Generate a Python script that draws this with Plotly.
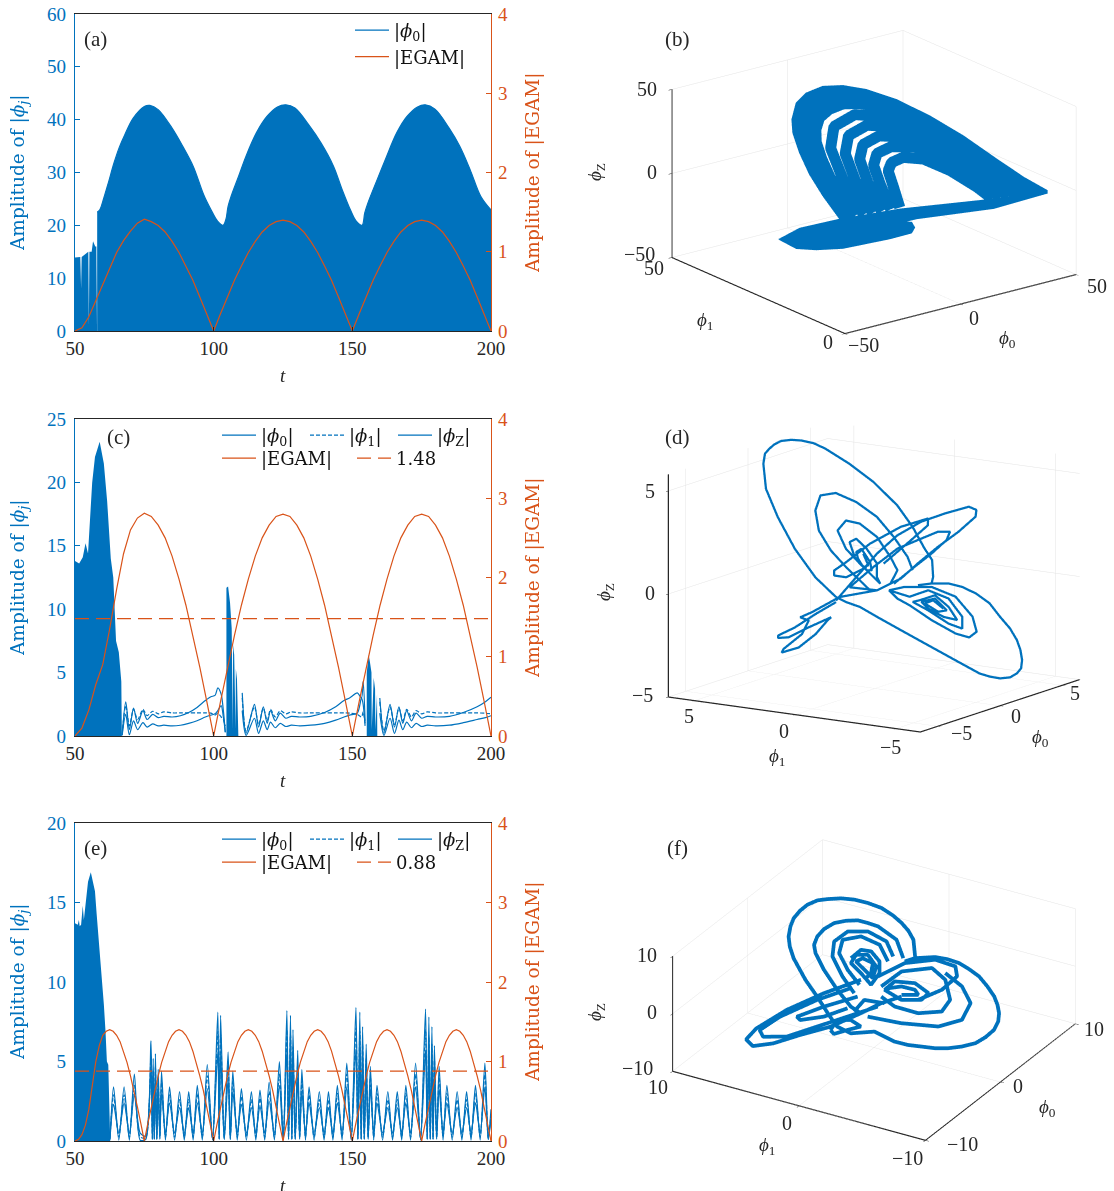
import plotly.graph_objects as go

W, H = 1114, 1191
BLUE = "#0072BD"
ORANGE = "#D95319"
INK = "#262626"
FONT = "Liberation Serif"
WIDE = "DejaVu Serif"

# ---------- panel (a) ----------
a_t = [50,51.9,52.2,52.4,54.8,55,55.2,56,56.5,57.3,57.7,57.85,58,59,60,62,64,66,68,71,75,77,80,85,88.8,92.6,96.4,99,101.4,103.4,104.4,105.2,106.3,109,111.6,115.4,119.2,123,126,129.3,134.3,138.7,143.2,146.3,149.5,151.4,153.5,154.5,155.6,159,162.1,166,169.7,173.5,176.3,179.8,184.9,188.7,192.5,196.3,200]
a_phi0 = [13.9,14,8,14,15,1,15,15,17,16,16,1,22.5,23,24.5,28,31.7,34.8,37.2,40.3,42.5,42.7,41.9,38.4,35,31.2,25.8,23,20.8,20,21.1,23.6,25.5,29.3,33,37.5,40.6,42.4,42.8,42.2,39,35.6,31.2,26.8,22.7,20.8,20,22.4,24.2,28.7,32.7,37.5,40.6,42.4,42.8,42,38.4,35,30.5,25.5,22.9]
egam_t = [50,52.5,55,57.5,60,62.5,65,67.5,70,72.5,75,77.5,80,82.5,85,87.5,90,92.5,95,97.5,100,102.5,105,107.5,110,112.5,115,117.5,120,122.5,125,127.5,130,132.5,135,137.5,140,142.5,145,147.5,150,152.5,155,157.5,160,162.5,165,167.5,170,172.5,175,177.5,180,182.5,185,187.5,190,192.5,195,197.5,200]
a_egam = [0,.04,.18,.38,.6,.8,.99,1.14,1.26,1.36,1.41,1.38,1.33,1.25,1.13,.99,.82,.64,.43,.22,0,.22,.43,.64,.82,.99,1.13,1.25,1.33,1.38,1.4,1.38,1.33,1.25,1.13,.99,.82,.64,.43,.22,0,.22,.43,.64,.82,.99,1.13,1.25,1.33,1.38,1.4,1.38,1.33,1.25,1.13,.99,.82,.64,.43,.22,0]

# ---------- panel (c) ----------
c_burst1_t = [50,51.5,52.8,53.8,54.7,55.3,56.2,57.2,58.9,60.4,61.6,62.9,63.8,64.8,65.8,66.7,66.9]
c_burst1 = [13.8,13.6,14.1,15.2,14.4,17,20,22,23.2,21.5,18.5,14,12.5,7.5,6.6,4.3,0]
c_burst2_t = [104.6,105.2,105.9,106.5,106.9,107,107.4,107.9,108,108.4,108.9]
c_burst2 = [11.7,11.8,10.5,8.5,.5,7.2,6.4,.5,5.3,4.5,0]
c_burst3_t = [155.2,155.9,156.3,156.9,157,157.7,158.2,158.3,158.9,159]
c_burst3 = [5,6.4,5.9,5,.5,4.6,3.7,.5,3.3,0]
c_t = [67,68.3,69.6,71.1,72.6,74.5,76,78,80,82,85,88,91,94,97,99,100.5,101.5,102.7,103.5,104.2,107,110.3,111.7,114.7,116.2,117.9,119.3,120.5,122.2,124,126,128,131,135,140,144,147,149,151.8,153.3,153.9,154.6,157,159.9,161.4,163.6,165.2,166.8,168.2,169.6,171.3,173,175,177,180,185,190,195,198,200]
c_phi0 = [.1,2.7,.5,2.2,1,2,1.3,1.7,1.45,1.55,1.5,1.6,1.85,2.25,2.8,3.1,3.2,3.8,3.3,2,.3,None,3.4,.2,2.5,.7,2.3,1,2,1.2,1.8,1.4,1.55,1.5,1.55,1.85,2.3,2.8,3,3.4,3,4.3,1.2,None,3,.2,2.5,.7,2.3,1,2,1.2,1.8,1.4,1.55,1.5,1.55,1.85,2.3,2.7,3.05]
c_phi1 = [.1,2.4,.8,2.1,1.3,2.1,1.6,1.95,1.75,1.9,1.82,1.82,1.82,1.82,1.82,1.8,1.65,1.8,1.5,1.3,.8,None,3,.4,2.3,.9,2.2,1.2,2.1,1.5,2,1.75,1.9,1.82,1.82,1.82,1.82,1.82,1.8,1.7,1.5,1.9,1,None,2.7,.4,2.3,.9,2.2,1.2,2.1,1.5,2,1.75,1.9,1.82,1.82,1.82,1.82,1.8,1.75]
c_phiz = [.05,1.7,.1,1.2,.5,1.05,.7,.95,.8,.85,.8,.85,1,1.2,1.5,1.65,1.75,2,2.4,1.5,.3,None,2,.05,1.4,.2,1.2,.5,1.1,.65,1,.75,.85,.8,.85,1,1.25,1.5,1.65,1.8,3,2.5,.8,None,1.8,.05,1.4,.2,1.25,.5,1.1,.65,1,.75,.85,.8,.85,1.05,1.3,1.45,1.6]
c_egam = [0,.1,.33,.65,.9,1.35,1.85,2.3,2.6,2.75,2.81,2.77,2.66,2.5,2.27,1.98,1.65,1.27,.87,.44,0,.44,.87,1.27,1.65,1.98,2.27,2.5,2.66,2.77,2.8,2.77,2.66,2.5,2.27,1.98,1.65,1.27,.87,.44,0,.44,.87,1.27,1.65,1.98,2.27,2.5,2.66,2.77,2.8,2.77,2.66,2.5,2.27,1.98,1.65,1.27,.87,.44,0]
c_level = [1.48, 1.48]
level_t = [50, 200]

# ---------- panel (e) ----------
e_burst_t = [50,51,51.4,51.7,52.2,52.8,53.2,53.6,54.1,54.7,55.7,56.5,57.2,57.8,58.5,59.1,59.7,60.4,61,61.5,62,62.5,62.7]
e_burst = [13.7,13.6,13.9,13.5,13.6,14.8,13.9,14.5,15.6,16.3,16.9,16.3,15.7,14.3,12.8,11.5,10.4,8.6,6.9,5,4.8,2,0]
e_t = [62.6,63.9,65.8,67.7,69.6,71.4,73.5,75.5,
       77.4,77.9,78.2,78.6,79,79.5,80,80.6,81.2,82.6,84.1,85.9,87.7,89.4,91,92.6,94.1,95.9,97.7,99.6,
       101.5,102,102.5,103.8,105.2,106,106.9,108.5,110,111.8,113.6,115.2,116.7,118.4,120,121.9,123.7,125.1,
       126.4,127,127.7,128.2,128.6,129.4,130.3,131,131.8,133.1,134.4,136.2,138.1,139.8,141.4,143,144.6,146.3,148,149.6,
       151.3,152,152.7,153.2,153.7,154.3,155,155.7,156.5,157.7,158.9,160.9,162.8,164.5,166.2,167.8,169.3,171,172.8,174.6,
       176.4,177,177.6,178.1,178.7,179.1,179.6,180.4,181.3,182.7,184.1,186,187.8,189.5,191.2,192.8,194.4,196.1,197.8,199,200]
e_phi0 = [.1,3.4,.05,3.4,.05,4.2,.05,.1,
          6.3,.1,5.2,.1,5.5,.1,4.5,.1,4.4,.05,3.4,.05,3.1,.05,3.1,.05,3.5,.05,4.8,.05,
          8.1,.1,7.9,.1,5.6,.1,4.4,.05,3.3,.05,3.1,.05,3.2,.05,3.7,.05,5,.05,
          8.2,.1,7.9,.1,7,.1,5.7,.1,4.5,.05,3.4,.05,3.1,.05,3.1,.05,3.5,.05,4.9,.05,
          8.4,.1,8.1,.1,7.2,.1,6.1,.1,4.7,.05,3.5,.05,3.1,.05,3.1,.05,3.5,.05,4.9,.05,
          8.3,.1,7.8,.1,7.2,.1,6,.1,4.7,.05,3.5,.05,3.1,.05,3.1,.05,3.5,.05,4.9,.1,2]
e_phi1 = [.2,2.9,.25,2.9,.25,3.5,.25,.2,
          5.4,.2,4.4,.2,4.7,.2,3.8,.2,3.7,.25,2.9,.25,2.6,.25,2.6,.25,3,.25,4.1,.2,
          6.9,.2,6.7,.2,4.8,.2,3.8,.25,2.8,.25,2.6,.25,2.7,.25,3.1,.25,4.2,.2,
          7,.2,6.7,.2,5.9,.2,4.8,.2,3.8,.25,2.9,.25,2.6,.25,2.6,.25,3,.25,4.2,.2,
          7.1,.2,6.9,.2,6.1,.2,5.2,.2,4,.25,3,.25,2.6,.25,2.6,.25,3,.25,4.2,.2,
          7,.2,6.6,.2,6.1,.2,5.1,.2,4,.25,3,.25,2.6,.25,2.6,.25,3,.25,4.2,.2,1.7]
e_phiz = [.1,2.3,.5,2.4,.5,2.9,.5,.3,
          4.4,.1,3.6,.1,3.9,.1,3.1,.3,3,.5,2.4,.5,2.1,.5,2.1,.5,2.4,.5,3.3,.1,
          5.6,.1,5.5,.1,3.9,.1,3.1,.5,2.3,.5,2.1,.5,2.2,.5,2.5,.5,3.5,.1,
          5.7,.1,5.5,.1,4.9,.1,3.9,.2,3.1,.5,2.4,.5,2.1,.5,2.1,.5,2.4,.5,3.4,.1,
          5.8,.1,5.7,.1,5,.1,4.2,.2,3.3,.5,2.4,.5,2.1,.5,2.1,.5,2.4,.5,3.4,.1,
          5.7,.1,5.4,.1,5,.1,4.1,.2,3.3,.5,2.4,.5,2.1,.5,2.1,.5,2.4,.5,3.4,.1,1.4]
e_egam_t = [50,51.25,52.5,53.75,55,56.25,57.5,58.75,60,61.25,62.5,63.75,65,66.25,67.5,68.75,70,71.25,72.5,73.75,75,
            76.25,77.5,78.75,80,81.25,82.5,83.75,85,86.25,87.5,88.75,90,91.25,92.5,93.75,95,96.25,97.5,98.75,100,
            101.25,102.5,103.75,105,106.25,107.5,108.75,110,111.25,112.5,113.75,115,116.25,117.5,118.75,120,121.25,122.5,123.75,125,
            126.25,127.5,128.75,130,131.25,132.5,133.75,135,136.25,137.5,138.75,140,141.25,142.5,143.75,145,146.25,147.5,148.75,150,
            151.25,152.5,153.75,155,156.25,157.5,158.75,160,161.25,162.5,163.75,165,166.25,167.5,168.75,170,171.25,172.5,173.75,175,
            176.25,177.5,178.75,180,181.25,182.5,183.75,185,186.25,187.5,188.75,190,191.25,192.5,193.75,195,196.25,197.5,198.75,200]
_e_lobe = [.22,.43,.64,.82,.99,1.13,1.25,1.33,1.38,1.4,1.38,1.33,1.25,1.13,.99,.82,.64,.43,.22,0]
e_egam = [0,.02,.08,.2,.4,.72,1.0,1.2,1.33,1.38,1.4,1.38,1.33,1.25,1.13,.99,.82,.64,.43,.22,0] + _e_lobe + _e_lobe + _e_lobe + _e_lobe + _e_lobe
e_level = [.88, .88]

# ---------- panel (b) : attractor band ----------
b_outer_phi0 = [5.3,1.7,-1.1,-3.2,-4.6,-4.8,-3.9,-1.8,1.7,6,10.9,17.2,24.3,31.3,38.3,44,48.9]
b_outer_phi1 = [38.5,41,43,44.5,45.5,45.65,45,43.5,41,38,34.5,30,25,20,15,11,7.5]
b_outer_phiz = [-36.4,-23.5,-11.5,.8,12.3,20.2,30.4,37,42.1,43.8,42.9,38.8,31,21.2,9.4,.2,-6.2]
b_inner_phi0 = [8.4,5.6,3.3,1.6,.4,.3,1.1,3.1,6,9.5,13.8,19.3,25.3,31.3,37.3,41.9,46]
b_inner_phi1 = [36.25,38.25,39.9,41.1,41.95,42,41.45,40,38,35.5,32.4,28.5,24.25,20,15.75,12.5,9.55]
b_inner_phiz = [-33.6,-22.4,-11.9,-1.7,8.1,15.8,23,28.6,32.6,33.9,33.4,29.5,23.2,14.9,4.9,-2.4,-8.3]
b_strand_phi0 = [10.3,6,3.4,4.1,8.5,15.7,26,36.7,44.3,None,
                 12.2,8.6,6.5,7.2,11,17.5,26.6,36,42.5,None,
                 14.1,11.2,9.5,10.2,13.6,19.3,27.2,35.4,40.7,None,
                 16,13.8,12.4,13.1,16.1,21.1,27.9,34.8,39,None,
                 17.9,16.5,15.5,16.2,18.6,22.9,28.5,34.1,37.3]
b_strand_phi1 = [34.9,38,39.8,39.3,36.2,31.1,23.8,16.2,10.8,None,
                 33.55,36.15,37.65,37.15,34.4,29.8,23.35,16.65,12.05,None,
                 32.2,34.25,35.5,35,32.6,28.55,22.9,17.1,13.3,None,
                 30.85,32.4,33.4,32.9,30.8,27.25,22.45,17.55,14.55,None,
                 29.5,30.5,31.25,30.75,29,26,22,18,15.75]
b_strand_phiz = [-32.1,-12.1,5.6,18.6,27,27.6,18.4,2.2,-9.6,None,
                 -30.5,-12.3,3.1,14.1,21.4,22.4,13.6,-.6,-11,None,
                 -28.9,-12.7,.7,9.6,15.8,16.8,8.9,-3.4,-12.1,None,
                 -27.2,-12.9,-2,5.2,10.1,11.4,4.1,-6,-13.4,None,
                 -25.6,-13.1,-4.5,.7,4.5,4.7,-.5,-8.7,-14.7]
b_bar_top_phi0 = [5.3,17.9,37.3,48.9]
b_bar_top_phi1 = [38.5,29.5,15.75,7.5]
b_bar_top_phiz = [-36,-26.2,-14.7,-6.2]
b_bar_low_phi0 = [6.7,21.5,37.6,48.9]
b_bar_low_phi1 = [37.5,27,15.5,7.5]
b_bar_low_phiz = [-45.9,-31.5,-20.6,-8.2]
b_lobe_top_phi0 = [-14.9,-10.5,-2.1,7.1,13,13.7]
b_lobe_top_phi1 = [42.6,39.5,33.5,27,22.75,22.25]
b_lobe_top_phiz = [-44.6,-36.7,-28.8,-27.4,-26.2,-29.4]
b_lobe_low_phi0 = [-14.9,-11.2,-7,-1.4,8.5,13]
b_lobe_low_phi1 = [42.6,40,37,33,26,22.75]
b_lobe_low_phiz = [-45,-49.5,-49,-46.5,-37.9,-33.1]

# ---------- panel (d) ----------
d_phi0 = [1.42,1.48,1.63,1.84,1.28,1.07,1.20,1.55,1.95,2.49,2.65,2.70,2.75,2.76,2.76,2.73,2.64,2.53,2.39,2.32,2.16,2.10,2.01,2.10,2.19,2.24,2.26,2.24,2.18,2.12,2.05,1.98,1.89,1.81,1.74,1.66,1.59,1.55,1.52,1.50,1.49,1.48,1.47,1.46,1.43,1.42,None,
          2.12,2.21,2.32,2.41,2.44,2.40,2.29,2.12,1.95,1.83,1.76,1.71,1.68,None,
          1.86,2.03,2.11,2.22,2.25,2.20,2.06,1.93,1.87,1.84,1.80,1.84,1.97,2.05,2.09,2.02,1.90,1.85,1.88,1.95,2.02,1.96,1.91,1.86,1.91,1.99,None,
          1.38,1.72,2.07,2.36,2.63,2.84,3.04,3.06,2.98,2.74,2.48,2.21,1.97,1.72,1.59,1.92,2.23,2.43,2.62,2.69,2.59,2.39,2.16,1.88,None,
          2.01,2.39,2.63,2.70,2.46,2.12,1.81,1.66,1.61,1.66,1.88,None,
          1.37,1.14,.89,.72,.70,.77,.97,1.20,1.14,.95,.72,.58,.63,.87,1.03,1.02,1.13,1.44,1.72,None,
          1.79,1.91,2.07,2.11,2.02,1.90,1.80,1.76,1.75,1.77,1.76,1.79,1.85,2.02,2.05,1.96,1.84,1.81,1.83,1.82,1.87,2.0,1.97,1.89,1.85,1.85,1.87,1.97,1.93,1.86,1.87,1.94,1.92]
d_phi1 = [2.81,3.87,4.98,5.96,6.2,6.2,6.2,6.2,6.2,6.2,5.79,5.32,4.75,4.17,2.98,1.77,.53,-.30,-.98,-1.40,-1.55,-1.51,-.89,-1.51,-2.29,-2.94,-3.61,-4.3,-4.85,-5.39,-5.77,-5.99,-6.13,-6.13,-5.97,-5.68,-5.22,-4.74,-4.25,-2.90,-1.55,-.38,.80,1.65,2.31,2.81,None,
          -.56,-.25,.50,1.40,2.44,3.43,4.12,4.27,3.99,3.32,2.52,1.81,1.28,None,
          .38,.14,.54,1.28,2.15,2.80,3.13,2.63,1.91,1.38,.85,1.04,1.12,1.68,2.22,2.51,2.18,1.55,1.32,1.45,1.92,2.14,2.02,1.73,1.51,1.81,None,
          2.79,1.99,1.18,.35,-.67,-1.72,-2.78,-3.14,-3.15,-2.45,-1.60,-.76,-.07,.96,2.24,1.26,.27,-.62,-1.51,-2.06,-1.95,-1.33,-.62,.22,None,
          .81,-.31,-1.0,-.96,.24,1.56,2.55,3.05,3.02,2.46,1.57,None,
          2.78,3.65,4.51,5.25,5.24,4.77,3.88,2.92,3.06,3.53,4.23,4.99,4.93,4.16,3.92,4.34,3.82,2.65,.96,None,
          .41,-.27,-1.53,-2.69,-3.59,-3.87,-3.56,-2.91,-1.73,-.62,-.03,.41,-.57,-1.39,-2.38,-3.12,-3.19,-2.53,-1.51,-.75,-1.06,-1.74,-2.43,-2.91,-2.26,-1.50,-1.15,-1.76,-2.37,-1.99,-1.31,-1.69,-2.21]
d_phiz = [-1.23,-.43,.77,2.14,3.59,4.85,5.31,5.48,5.61,5.67,5.75,5.77,5.71,5.52,4.95,4.24,3.29,2.38,1.45,.96,.19,-.12,-.27,-.12,-.03,-.12,-.35,-.73,-1.29,-1.78,-2.27,-2.71,-3.16,-3.55,-3.80,-4.02,-4.12,-4.09,-4.0,-3.45,-2.90,-2.42,-1.93,-1.56,-1.41,-1.23,None,
          .39,.98,1.82,2.66,3.23,3.54,3.35,2.63,1.73,.88,.19,-.34,-.75,None,
          -.33,.31,.89,1.74,2.26,2.33,1.83,1.03,.43,.02,-.39,-.10,.52,1.14,1.55,1.36,.70,.15,.18,.55,1.11,.94,.64,.28,.39,.89,None,
          -1.39,-.21,.97,1.91,2.66,3.16,3.59,3.48,3.17,2.39,1.60,.73,-.05,-.71,-.71,.34,1.30,1.80,2.29,2.35,1.95,1.25,.55,-.32,None,
          .55,1.76,2.53,2.84,2.32,1.39,.42,-.02,-.25,-.27,.30,None,
          -1.46,-2.11,-2.82,-3.29,-3.40,-3.32,-2.75,-2.18,-2.34,-3.03,-3.73,-4.05,-3.88,-3.10,-2.44,-2.34,-2.04,-1.21,-.71,None,
          -.65,-.42,-.28,-.60,-1.43,-2.10,-2.40,-2.29,-1.80,-1.23,-.99,-.65,-.84,-.45,-.72,-1.49,-2.03,-1.87,-1.37,-1.06,-.95,-.64,-1.10,-1.66,-1.59,-1.29,-1.01,-.79,-1.27,-1.38,-1.07,-.88,-1.21]

# ---------- panel (f) ----------
f_phi0 = [3.02,3.64,3.86,3.99,4.05,4.05,3.89,3.67,3.37,2.98,2.67,2.23,1.79,1.34,.93,.48,.12,-.25,-.78,-1.14,-1.55,-1.79,-1.71,-1.01,-.88,-.66,-.37,-.08,.28,.69,1.19,1.69,2.20,2.64,2.99,3.28,3.52,3.74,3.92,3.94,3.92,3.75,3.52,2.95,2.55,None,
          2.64,3.19,3.23,3.10,2.94,2.61,2.21,1.70,1.24,.82,.53,.09,-.34,-.65,-.65,None,
          2.44,2.86,2.77,2.24,1.48,.85,.32,-.03,None,
          2.11,2.55,2.39,1.77,1.15,.72,.44,None,
          1.26,1.86,2.07,1.89,1.43,.75,.94,1.07,1.54,1.85,1.60,1.05,1.16,1.27,1.57,1.65,1.21,.87,None,
          .68,-.83,-2.46,-3.99,-4.70,-4.78,-4.14,-3.10,-1.97,-.65,.28,1.08,None,
          .08,-1.27,-2.91,-3.97,-4.14,-3.52,-2.32,-1.13,.06,None,
          -.08,-1.36,-2.47,-2.51,-1.76,-.80,None,
          1.25,2.49,3.42,3.69,3.34,2.41,1.39,None,
          .94,2.08,3.01,2.90,2.23,1.55,.86,.51,.54,None,
          -.60,.03,.87,1.75,2.64,3.07,3.16,None,
          .90,1.50,1.96,1.93,1.48,.95,.90,1.11,1.48,1.70,1.59,1.15,None,
          -2.11,-1.53,-1.18,-1.17,-1.66,-2.17,-2.11,None,
          -.76,-.03,.37]
f_phi1 = [-1.46,-.96,-.43,.18,.88,1.80,2.78,3.72,4.60,5.44,6.05,6.59,6.92,7.14,7.16,7.04,6.73,6.21,4.96,3.82,2.65,1.85,.83,-.63,-2.14,-3.08,-3.96,-4.86,-5.72,-6.53,-7.32,-7.82,-8.19,-8.26,-8.12,-7.82,-7.42,-6.75,-5.98,-5.17,-4.39,-3.55,-2.75,-1.50,-.92,None,
          -.75,.11,1.60,2.32,3.02,3.76,4.46,4.96,5.22,5.23,4.94,4.01,2.70,1.45,.66,None,
          -.07,.71,2.12,3.40,4.03,3.79,2.68,1.55,None,
          .15,1.06,2.44,3.53,3.44,2.51,1.42,None,
          2.57,2.13,1.45,.68,.41,.68,1.59,2.46,2.33,1.58,.77,.72,1.44,2.18,1.82,1.07,.95,1.15,None,
          1.43,3.47,5.45,6.94,7.33,6.75,5.52,4.01,2.27,.66,-.40,-1.53,None,
          1.88,3.75,5.71,6.69,6.32,4.83,3.13,1.43,-.26,None,
          1.25,3.16,4.64,4.35,2.93,1.62,None,
          .44,-.96,-2.81,-4.25,-4.59,-3.94,-2.67,None,
          -.01,-.95,-2.80,-3.92,-4.70,-4.44,-2.98,-1.33,-.25,None,
          .15,-2.14,-4.57,-5.92,-6.07,-5.14,-3.76,None,
          -.30,-.75,-2.08,-3.16,-2.88,-1.60,-.30,-.58,-1.29,-2.23,-2.56,-1.49,None,
          2.19,2.0,1.14,.35,1.12,1.89,2.19,None,
          1.13,.75,-.61]
f_phiz = [3.65,5.63,6.65,7.50,8.29,9.07,9.51,9.76,9.76,9.52,9.25,8.61,7.80,6.85,5.81,4.58,3.40,2.04,-.42,-2.29,-4.36,-5.66,-6.30,-5.83,-6.79,-7.04,-7.08,-7.12,-6.97,-6.61,-6.06,-5.22,-4.24,-3.19,-2.18,-1.20,-.24,.89,1.99,2.76,3.36,3.70,3.81,3.45,2.93,None,
          3.31,5.44,6.83,7.11,7.32,7.14,6.72,5.89,4.92,3.88,2.90,1.0,-1.25,-3.10,-3.78,None,
          3.40,5.12,6.10,5.87,4.51,2.69,.41,-1.45,None,
          2.74,4.64,5.43,4.81,3.17,1.27,-.39,None,
          2.71,3.83,3.74,2.64,1.24,-.26,1.03,2.11,3.17,3.30,2.0,.56,1.46,2.37,2.84,2.36,1.14,.48,None,
          .23,-1.80,-4.24,-6.80,-8.23,-8.96,-8.40,-7.09,-5.74,-3.78,-2.35,-1.32,None,
          -.89,-2.69,-5.12,-6.96,-7.72,-7.44,-5.89,-4.34,-2.79,None,
          -1.82,-3.41,-4.93,-5.29,-4.61,-3.34,None,
          .82,2.73,3.49,2.92,1.74,-.04,-1.52,None,
          -.34,1.69,2.45,1.20,-1.15,-2.65,-3.12,-2.59,-1.55,None,
          -4.11,-4.52,-4.49,-3.41,-1.31,.60,2.0,None,
          -.70,.42,.45,-.59,-1.48,-1.72,-.70,-.44,-.11,-.35,-.91,-1.11,None,
          -6.14,-4.86,-4.70,-5.38,-5.94,-6.58,-6.14,None,
          -3.66,-2.15,-2.31]

# ---------- text ----------
PHI0 = "|<i>ϕ</i><sub>0</sub>|"
PHI1 = "|<i>ϕ</i><sub>1</sub>|"
PHIZ = "|<i>ϕ</i><sub>Z</sub>|"
EGAM = "|EGAM|"
b_tick_text = ["50","0","−50","50","0","−50","0","50"]
d_tick_text = ["5","0","−5","5","0","−5","−5","0","5"]
f_tick_text = ["10","0","−10","10","0","−10","−10","0","10"]

def px(x): return x / W
def py(y): return 1 - y / H

fig = go.Figure()

def line(t, y, xa, ya, color, name=None, legend=None, dash=None, width=1.2, shape="linear", smoothing=None):
    ln = dict(color=color, width=width, shape=shape)
    if dash: ln["dash"] = dash
    if smoothing is not None: ln["smoothing"] = smoothing
    fig.add_trace(go.Scatter(x=t, y=y, xaxis=xa, yaxis=ya, mode="lines", line=ln, name=name or "",
                             showlegend=bool(name), legend=legend, connectgaps=False, hoverinfo="skip"))

def area(t, y, xa, ya, shape="linear"):
    fig.add_trace(go.Scatter(x=t, y=y, xaxis=xa, yaxis=ya, mode="lines", line=dict(width=0, color=BLUE, shape=shape),
                             fill="tozeroy", fillcolor=BLUE, showlegend=False, hoverinfo="skip"))

# (a)
area(a_t[:13], a_phi0[:13], "x", "y")
area(a_t[12:], a_phi0[12:], "x", "y", shape="spline")
line(a_t[12:], a_phi0[12:], "x", "y", BLUE, PHI0, "legend", width=1.2, shape="spline")
line(egam_t, a_egam, "x", "y2", ORANGE, EGAM, "legend")
# (c)
area(c_burst1_t, c_burst1, "x2", "y3")
area(c_burst2_t, c_burst2, "x2", "y3")
area(c_burst3_t, c_burst3, "x2", "y3")
line(c_t, c_phi0, "x2", "y3", BLUE, PHI0, "legend2", shape="spline", smoothing=.8)
line(c_t, c_phi1, "x2", "y3", BLUE, PHI1, "legend2", dash="4px,2px", shape="spline", smoothing=.8)
line(c_t, c_phiz, "x2", "y3", BLUE, PHIZ, "legend2", shape="spline", smoothing=.8)
line(egam_t, c_egam, "x2", "y4", ORANGE, EGAM, "legend3")
line(level_t, c_level, "x2", "y4", ORANGE, "1.48", "legend3", dash="14px,7px")
# (e)
area(e_burst_t, e_burst, "x3", "y5")
line(e_t, e_phi0, "x3", "y5", BLUE, PHI0, "legend4", shape="spline", smoothing=.7)
line(e_t, e_phi1, "x3", "y5", BLUE, PHI1, "legend4", dash="4px,2px", shape="spline", smoothing=.7)
line(e_t, e_phiz, "x3", "y5", BLUE, PHIZ, "legend4", shape="spline", smoothing=.7)
line(e_egam_t, e_egam, "x3", "y6", ORANGE, EGAM, "legend5")
line(level_t, e_level, "x3", "y6", ORANGE, "0.88", "legend5", dash="14px,7px")

# (b) filled band as meshes, inner strands as thick lines
def ribbon(x1, y1, z1, x2, y2, z2):
    n = len(x1)
    i, j, k = [], [], []
    for m in range(n - 1):
        i += [m, m + 1]; j += [m + 1, n + m + 1]; k += [n + m, n + m]
    fig.add_trace(go.Mesh3d(x=x1 + x2, y=y1 + y2, z=z1 + z2, i=i, j=j, k=k, color=BLUE, flatshading=True,
                            lighting=dict(ambient=1, diffuse=0, specular=0, roughness=1, fresnel=0),
                            hoverinfo="skip", showscale=False, scene="scene"))

ribbon(b_outer_phi0, b_outer_phi1, b_outer_phiz, b_inner_phi0, b_inner_phi1, b_inner_phiz)
ribbon(b_bar_top_phi0, b_bar_top_phi1, b_bar_top_phiz, b_bar_low_phi0, b_bar_low_phi1, b_bar_low_phiz)
ribbon(b_lobe_top_phi0, b_lobe_top_phi1, b_lobe_top_phiz, b_lobe_low_phi0, b_lobe_low_phi1, b_lobe_low_phiz)
fig.add_trace(go.Scatter3d(x=b_inner_phi0 + [None] + b_strand_phi0, y=b_inner_phi1 + [None] + b_strand_phi1,
                           z=b_inner_phiz + [None] + b_strand_phiz, mode="lines",
                           line=dict(color=BLUE, width=22), scene="scene", showlegend=False, hoverinfo="skip"))
fig.add_trace(go.Scatter3d(x=d_phi0, y=d_phi1, z=d_phiz, mode="lines",
                           line=dict(color=BLUE, width=4.5), scene="scene2", showlegend=False, hoverinfo="skip"))
fig.add_trace(go.Scatter3d(x=f_phi0, y=f_phi1, z=f_phiz, mode="lines",
                           line=dict(color=BLUE, width=7.5), scene="scene3", showlegend=False, hoverinfo="skip"))

# 2D axes
def xaxis(anchor):
    return dict(domain=[px(75), px(491)], range=[50, 200], anchor=anchor, tickvals=[50, 100, 150, 200],
                ticks="inside", ticklen=4, tickcolor=INK, showline=True, linecolor=INK, linewidth=1.2, mirror=True,
                showgrid=False, zeroline=False, automargin=False, tickfont=dict(family=FONT, size=19, color=INK))

def yleft(top, bottom, rng, vals, anchor):
    return dict(domain=[py(bottom), py(top)], range=rng, anchor=anchor, tickvals=vals, ticks="inside", ticklen=5,
                tickcolor=BLUE, showline=True, linecolor=BLUE, linewidth=1.2, showgrid=False, zeroline=False, automargin=False,
                ticklabelstandoff=4, tickfont=dict(family=FONT, size=19, color=BLUE))

def yright(ov, anchor):
    return dict(overlaying=ov, side="right", anchor=anchor, range=[0, 4], tickvals=[0, 1, 2, 3, 4], ticks="inside", ticklen=5,
                tickcolor=ORANGE, showline=True, linecolor=ORANGE, linewidth=1.2, showgrid=False, zeroline=False, automargin=False,
                ticklabelstandoff=2, tickfont=dict(family=FONT, size=19, color=ORANGE))

def scene(cx, cy, halfh, halfw, asp, eye, xr, yr, zr, xt, yt, zt):
    norm = 3
    ax = dict(showbackground=False, showline=True, linecolor=INK, linewidth=2.5, gridcolor="#e4e4e4", gridwidth=1,
              ticks="outside", ticklen=4, tickcolor=INK, zeroline=False, showspikes=False, showticklabels=False,
              title=dict(text=""))
    return dict(domain=dict(x=[px(cx - halfw), px(cx + halfw)], y=[py(cy + halfh), py(cy - halfh)]),
                aspectmode="manual", aspectratio=dict(x=asp[0], y=asp[1], z=asp[2]),
                camera=dict(projection=dict(type="orthographic"), center=dict(x=0, y=0, z=0),
                            up=dict(x=0, y=0, z=1), eye=dict(x=eye[0] * norm, y=eye[1] * norm, z=eye[2] * norm)),
                xaxis=dict(ax, range=xr, tickvals=xt),
                yaxis=dict(ax, range=yr, tickvals=yt),
                zaxis=dict(ax, range=zr, tickvals=zt))

def leg(x, y, width=None, horizontal=True):
    d = dict(x=px(x), y=py(y), xanchor="left", yanchor="top", bgcolor="rgba(0,0,0,0)", borderwidth=0,
             font=dict(family=WIDE, size=18, color="#111111"), itemwidth=34, tracegroupgap=0, itemclick=False, itemdoubleclick=False)
    if horizontal:
        d["orientation"] = "h"
        d["entrywidth"] = width
        d["entrywidthmode"] = "pixels"
    return d

def note(text, x, y, size=21, angle=0, color=INK, family=FONT):
    return dict(text=text, x=px(x), y=py(y), xref="paper", yref="paper", showarrow=False, textangle=angle,
                font=dict(family=family, size=size, color=color), xanchor="center", yanchor="middle")

LEFT = "Amplitude of |<i>ϕ</i><sub><i>j</i></sub>|"
RIGHT = "Amplitude of |EGAM|"
annotations = [note("(a)", 95, 39), note("(b)", 678, 39), note("(c)", 118, 437), note("(d)", 677, 437), note("(e)", 95, 848), note("(f)", 677, 848),
               note("<i>ϕ</i><sub>Z</sub>", 596, 172, 19, -90), note("<i>ϕ</i><sub>1</sub>", 705, 321, 19), note("<i>ϕ</i><sub>0</sub>", 1007, 339, 19),
               note("<i>ϕ</i><sub>Z</sub>", 605, 592, 19, -90), note("<i>ϕ</i><sub>1</sub>", 777, 757, 19), note("<i>ϕ</i><sub>0</sub>", 1040, 738, 19),
               note("<i>ϕ</i><sub>Z</sub>", 596, 1012, 19, -90), note("<i>ϕ</i><sub>1</sub>", 767, 1146, 19), note("<i>ϕ</i><sub>0</sub>", 1047, 1108, 19),
               note("<i>t</i>", 283, 375, 19), note("<i>t</i>", 283, 780, 19), note("<i>t</i>", 283, 1185, 19),
               note(LEFT, 19, 173, 18.5, -90, BLUE, WIDE), note(LEFT, 19, 578, 18.5, -90, BLUE, WIDE), note(LEFT, 19, 982, 18.5, -90, BLUE, WIDE),
               note(RIGHT, 533, 173, 18.5, -90, ORANGE, WIDE), note(RIGHT, 533, 578, 18.5, -90, ORANGE, WIDE), note(RIGHT, 533, 982, 18.5, -90, ORANGE, WIDE)]

for txt, pos in zip(b_tick_text, [(647,89),(652,172),(639,254),(654,268),(828,342),(864,345),(974,318),(1097,286)]):
    annotations.append(note(txt, pos[0], pos[1], 20))
for txt, pos in zip(d_tick_text, [(650,491),(650,593),(642,695),(689,716),(784,731),(890,747),(961,733),(1016,716),(1075,693)]):
    annotations.append(note(txt, pos[0], pos[1], 20))
for txt, pos in zip(f_tick_text, [(647,955),(652,1012),(637,1068),(658,1087),(787,1123),(907,1158),(962,1144),(1018,1086),(1094,1029)]):
    annotations.append(note(txt, pos[0], pos[1], 20))

fig.update_layout(
    width=W, height=H, margin=dict(l=0, r=0, t=0, b=0, autoexpand=False), paper_bgcolor="white", plot_bgcolor="white",
    showlegend=True, annotations=annotations,
    xaxis=xaxis("y"), yaxis=yleft(14, 331, [0, 60], [0, 10, 20, 30, 40, 50, 60], "x"), yaxis2=yright("y", "x"),
    xaxis2=xaxis("y3"), yaxis3=yleft(419, 736, [0, 25], [0, 5, 10, 15, 20, 25], "x2"), yaxis4=yright("y3", "x2"),
    xaxis3=xaxis("y5"), yaxis5=yleft(823, 1141, [0, 20], [0, 5, 10, 15, 20], "x3"), yaxis6=yright("y5", "x3"),
    legend=leg(350, 12, horizontal=False),
    legend2=leg(217, 417, 39), legend3=leg(217, 440, 86),
    legend4=leg(217, 821, 39), legend5=leg(217, 844, 86),
    scene=scene(874, 182.5, 182, 239, (1.597, 1.569, .98), (-.571, -.749, .335), [-50, 50], [0, 50], [-50, 50],
                [-50, 0, 50], [0, 50], [-50, 0, 50]),
    scene2=scene(873.65, 576.7, 180, 239, (1.625, 1.669, 1.266), (-.8194, -.5321, .2137), [-6.4, 6.4], [-6.2, 6.3], [-5, 5.8],
                 [-5, 0, 5], [-5, 0, 5], [-5, 0, 5]),
    scene3=scene(873.6, 989.65, 180, 239, (1.634, 1.633, .72), (-.7635, -.4525, .4608), [-10, 10], [-10, 10], [-10, 10],
                 [-10, 0, 10], [-10, 0, 10], [-10, 0, 10]),
)

fig.write_html("out.html", config={"displayModeBar": False}, post_script="document.body.style.margin='0';")
